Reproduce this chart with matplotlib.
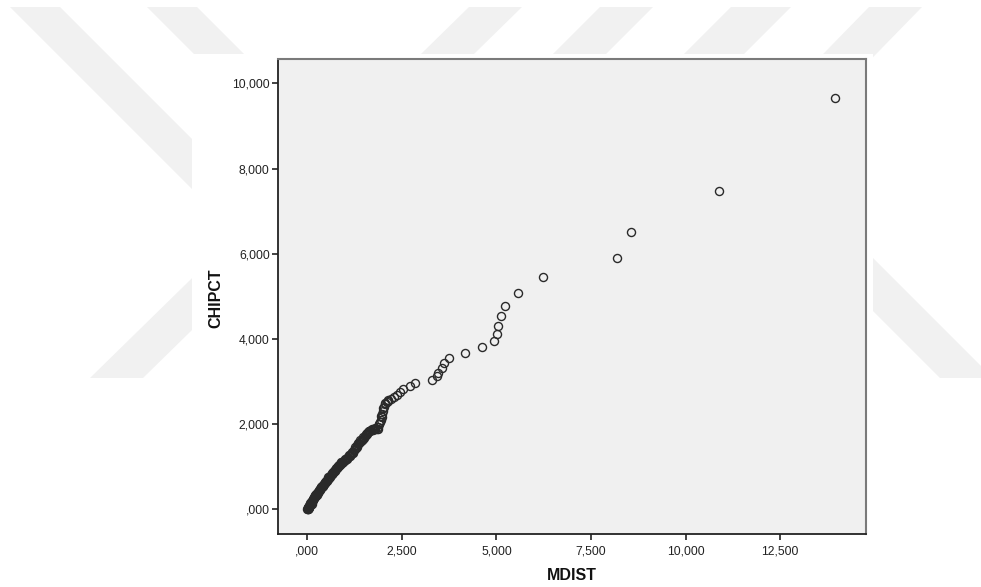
import matplotlib
matplotlib.use("Agg")
from matplotlib import pyplot as plt
from matplotlib.patches import Polygon, Rectangle

# values (decimal comma in the original labels)
mdist = [0.003, 0.007, 0.010, 0.014, 0.017, 0.021, 0.025, 0.029, 0.033, 0.038,
         0.042, 0.047, 0.052, 0.057, 0.062, 0.068, 0.073, 0.079, 0.085, 0.091,
         0.097, 0.104, 0.110, 0.117, 0.124, 0.131, 0.139, 0.146, 0.154, 0.162,
         0.170, 0.178, 0.187, 0.195, 0.204, 0.213, 0.222, 0.231, 0.241, 0.250,
         0.260, 0.270, 0.280, 0.291, 0.301, 0.312, 0.323, 0.334, 0.345, 0.357,
         0.368, 0.380, 0.392, 0.404, 0.417, 0.429, 0.442, 0.455, 0.468, 0.481,
         0.495, 0.508, 0.522, 0.536, 0.551, 0.565, 0.580, 0.595, 0.610, 0.625,
         0.641, 0.657, 0.673, 0.689, 0.705, 0.721, 0.738, 0.754, 0.771, 0.788,
         0.806, 0.823, 0.841, 0.858, 0.876, 0.894, 0.912, 0.930, 0.949, 0.967,
         0.986, 1.005, 1.024, 1.043, 1.062, 1.081, 1.101, 1.120, 1.140, 1.160,
         1.180, 1.200, 1.220, 1.241, 1.261, 1.282, 1.303, 1.325, 1.348, 1.370,
         1.392, 1.414, 1.436, 1.458, 1.480, 1.501, 1.523, 1.546, 1.568, 1.590,
         1.612, 1.634, 1.655, 1.690, 1.725, 1.760, 1.797, 1.832, 1.860, 1.890,
         1.919, 1.942, 1.964, 1.985, 2.006, 2.028, 2.051, 2.095, 2.138, 2.200,
         2.290, 2.360, 2.440, 2.520, 2.725, 2.855, 3.300, 3.440, 3.459, 3.565,
         3.610, 3.741, 4.171, 4.620, 4.929, 5.016, 5.027, 5.132, 5.228, 5.560,
         6.222, 8.190, 8.560, 10.880, 13.957,
         0.020, 0.050, 0.080, 0.120, 0.200, 0.260, 0.350, 0.420,
         0.560, 0.640, 0.720, 0.800, 0.900, 1.000, 1.100, 1.180, 1.260, 1.330,
         1.400, 1.470, 1.540, 1.620, 1.700, 1.780, 1.860, 1.900, 1.950, 2.000,
         2.060, 2.120]
chipct = [0.005, 0.011, 0.015, 0.022, 0.026, 0.033, 0.039, 0.045, 0.051, 0.059,
          0.065, 0.073, 0.081, 0.088, 0.096, 0.105, 0.113, 0.122, 0.132, 0.141,
          0.150, 0.161, 0.171, 0.181, 0.192, 0.203, 0.215, 0.226, 0.239, 0.250,
          0.261, 0.272, 0.284, 0.294, 0.306, 0.318, 0.330, 0.342, 0.355, 0.367,
          0.381, 0.394, 0.407, 0.422, 0.435, 0.449, 0.464, 0.479, 0.491, 0.505,
          0.518, 0.531, 0.545, 0.559, 0.573, 0.587, 0.602, 0.617, 0.631, 0.646,
          0.662, 0.677, 0.692, 0.708, 0.725, 0.740, 0.757, 0.774, 0.791, 0.808,
          0.826, 0.844, 0.862, 0.880, 0.896, 0.913, 0.930, 0.947, 0.965, 0.982,
          1.001, 1.018, 1.037, 1.055, 1.069, 1.082, 1.095, 1.109, 1.123, 1.136,
          1.150, 1.164, 1.178, 1.193, 1.210, 1.227, 1.245, 1.263, 1.281, 1.299,
          1.317, 1.335, 1.356, 1.386, 1.415, 1.445, 1.475, 1.507, 1.540, 1.560,
          1.580, 1.600, 1.620, 1.640, 1.660, 1.687, 1.716, 1.746, 1.775, 1.794,
          1.813, 1.832, 1.850, 1.859, 1.868, 1.877, 1.886, 1.895, 1.945, 1.998,
          2.050, 2.110, 2.170, 2.245, 2.320, 2.400, 2.480, 2.520, 2.560, 2.590,
          2.640, 2.688, 2.748, 2.820, 2.890, 2.960, 3.032, 3.139, 3.209, 3.326,
          3.427, 3.545, 3.669, 3.810, 3.960, 4.124, 4.312, 4.531, 4.782, 5.090,
          5.446, 5.897, 6.514, 7.484, 9.648,
          0.050, 0.030, 0.160, 0.140, 0.340, 0.350, 0.530, 0.540,
          0.760, 0.850, 0.930, 1.010, 1.110, 1.180, 1.270, 1.340, 1.460, 1.560,
          1.630, 1.690, 1.770, 1.850, 1.880, 1.910, 1.900, 2.000, 2.200, 2.380,
          2.500, 2.540]

xticks = [0, 2.5, 5, 7.5, 10, 12.5]
yticks = [0, 2, 4, 6, 8, 10]

W, H = 981, 587
plt.rcParams['font.family'] = ['Liberation Sans', 'DejaVu Sans']

def px(x, y):
    # picture pixels (top-left origin) -> figure fraction
    return (x / float(W), 1 - y / float(H))

def spss_fmt(v):
    s = '%.3f' % v
    if s.startswith('0.'):
        s = s[1:]
    return s.replace('.', ',')

fig = plt.figure(figsize=(W / 100., H / 100.), dpi=100)

# faint diagonal watermark behind the chart
stripe_col = '#f1f1f1'
stripes = [
    [(10, 7), (60, 7), (431, 378), (381, 378)],
    [(147, 7), (197, 7), (568, 378), (518, 378)],
    [(469, 7), (522, 7), (143, 378), (90, 378)],
    [(600, 7), (653, 7), (282, 378), (229, 378)],
    [(731, 7), (791, 7), (420, 378), (360, 378)],
    [(869, 7), (922, 7), (560, 378), (507, 378)],
    [(712, 150), (765, 150), (993, 378), (940, 378)],
]
for s in stripes:
    fig.add_artist(Polygon([px(*p) for p in s], closed=True,
                           facecolor=stripe_col, edgecolor='none', zorder=-2))
fig.add_artist(Rectangle(px(192, 587), (873 - 192) / float(W), (587 - 54) / float(H),
                         facecolor='white', edgecolor='none', zorder=-1))

left, right, top, bottom = 278, 866, 59, 534
ax = fig.add_axes([left / float(W), 1 - bottom / float(H),
                   (right - left) / float(W), (bottom - top) / float(H)])
ax.set_zorder(2)
ax.set_facecolor('#f0f0f0')

ax.plot(mdist, chipct, linestyle='none', marker='o', markersize=5.8,
        markerfacecolor='none', markeredgecolor='#2a2a2a', markeredgewidth=1.0)

ax.set_xlim(-0.774, 14.765)
ax.set_ylim(-0.575, 10.570)
ax.set_xticks(xticks)
ax.set_yticks(yticks)
ax.set_xticklabels([spss_fmt(v) for v in xticks])
ax.set_yticklabels([spss_fmt(v) for v in yticks])
ax.tick_params(axis='both', direction='out', length=4.5, width=1.2,
               color='#222222', labelsize=8.7, labelcolor='#222222')
ax.tick_params(axis='y', pad=1.5)
ax.tick_params(axis='x', pad=4)

for side in ['left', 'bottom']:
    ax.spines[side].set_color('#222222')
    ax.spines[side].set_linewidth(1.3)
for side in ['top', 'right']:
    ax.spines[side].set_color('#7a7a7a')
    ax.spines[side].set_linewidth(1.5)

fig.text(216 / float(W), 1 - 298 / float(H), 'CHIPCT', rotation=90,
         ha='center', va='center', fontsize=11.5, fontweight='bold', color='#111111')
fig.text(572 / float(W), 1 - 575 / float(H), 'MDIST',
         ha='center', va='center', fontsize=11.5, fontweight='bold', color='#111111')

fig.savefig('out.png', dpi=100)
